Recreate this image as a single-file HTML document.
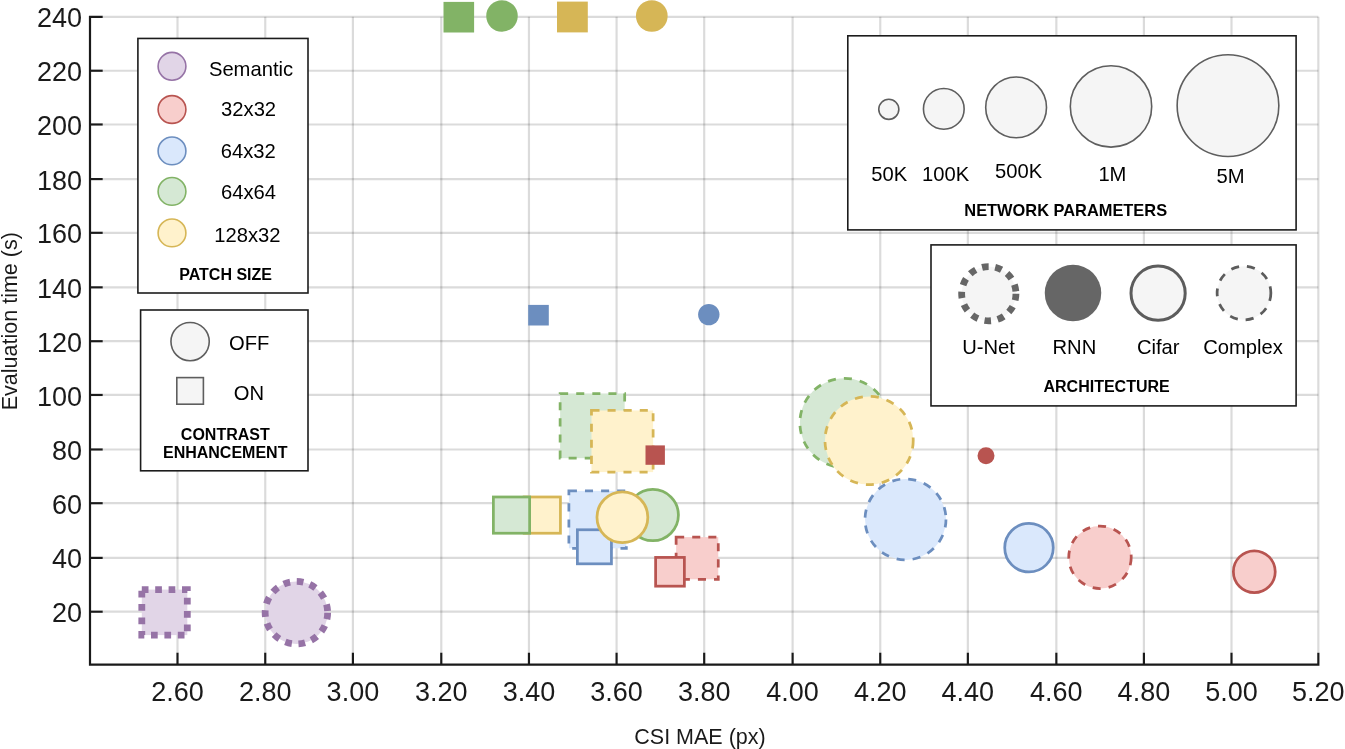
<!DOCTYPE html>
<html><head><meta charset="utf-8"><title>chart</title>
<style>html,body{margin:0;padding:0;background:#fff;overflow:hidden}svg{display:block;will-change:transform}</style>
</head><body>
<svg width="1345" height="749" viewBox="0 0 1345 749">
<rect x="0" y="0" width="1345" height="749" fill="#ffffff"/>
<line x1="102.50" y1="16.80" x2="1318.35" y2="16.80" stroke="rgba(0,0,0,0.14)" stroke-width="2.2"/>
<line x1="102.50" y1="70.73" x2="1318.35" y2="70.73" stroke="rgba(0,0,0,0.14)" stroke-width="2.2"/>
<line x1="102.50" y1="124.48" x2="1318.35" y2="124.48" stroke="rgba(0,0,0,0.14)" stroke-width="2.2"/>
<line x1="102.50" y1="179.08" x2="1318.35" y2="179.08" stroke="rgba(0,0,0,0.14)" stroke-width="2.2"/>
<line x1="102.50" y1="232.81" x2="1318.35" y2="232.81" stroke="rgba(0,0,0,0.14)" stroke-width="2.2"/>
<line x1="102.50" y1="287.35" x2="1318.35" y2="287.35" stroke="rgba(0,0,0,0.14)" stroke-width="2.2"/>
<line x1="102.50" y1="341.21" x2="1318.35" y2="341.21" stroke="rgba(0,0,0,0.14)" stroke-width="2.2"/>
<line x1="102.50" y1="394.95" x2="1318.35" y2="394.95" stroke="rgba(0,0,0,0.14)" stroke-width="2.2"/>
<line x1="102.50" y1="449.48" x2="1318.35" y2="449.48" stroke="rgba(0,0,0,0.14)" stroke-width="2.2"/>
<line x1="102.50" y1="503.21" x2="1318.35" y2="503.21" stroke="rgba(0,0,0,0.14)" stroke-width="2.2"/>
<line x1="102.50" y1="557.88" x2="1318.35" y2="557.88" stroke="rgba(0,0,0,0.14)" stroke-width="2.2"/>
<line x1="102.50" y1="611.70" x2="1318.35" y2="611.70" stroke="rgba(0,0,0,0.14)" stroke-width="2.2"/>
<line x1="177.50" y1="16.80" x2="177.50" y2="652.70" stroke="rgba(0,0,0,0.14)" stroke-width="2.2"/>
<line x1="265.25" y1="16.80" x2="265.25" y2="652.70" stroke="rgba(0,0,0,0.14)" stroke-width="2.2"/>
<line x1="352.90" y1="16.80" x2="352.90" y2="652.70" stroke="rgba(0,0,0,0.14)" stroke-width="2.2"/>
<line x1="441.28" y1="16.80" x2="441.28" y2="652.70" stroke="rgba(0,0,0,0.14)" stroke-width="2.2"/>
<line x1="528.95" y1="16.80" x2="528.95" y2="652.70" stroke="rgba(0,0,0,0.14)" stroke-width="2.2"/>
<line x1="616.58" y1="16.80" x2="616.58" y2="652.70" stroke="rgba(0,0,0,0.14)" stroke-width="2.2"/>
<line x1="704.20" y1="16.80" x2="704.20" y2="652.70" stroke="rgba(0,0,0,0.14)" stroke-width="2.2"/>
<line x1="792.61" y1="16.80" x2="792.61" y2="652.70" stroke="rgba(0,0,0,0.14)" stroke-width="2.2"/>
<line x1="880.25" y1="16.80" x2="880.25" y2="652.70" stroke="rgba(0,0,0,0.14)" stroke-width="2.2"/>
<line x1="967.85" y1="16.80" x2="967.85" y2="652.70" stroke="rgba(0,0,0,0.14)" stroke-width="2.2"/>
<line x1="1056.35" y1="16.80" x2="1056.35" y2="652.70" stroke="rgba(0,0,0,0.14)" stroke-width="2.2"/>
<line x1="1143.90" y1="16.80" x2="1143.90" y2="652.70" stroke="rgba(0,0,0,0.14)" stroke-width="2.2"/>
<line x1="1231.50" y1="16.80" x2="1231.50" y2="652.70" stroke="rgba(0,0,0,0.14)" stroke-width="2.2"/>
<line x1="1318.35" y1="16.80" x2="1318.35" y2="652.70" stroke="rgba(0,0,0,0.14)" stroke-width="2.2"/>
<path d="M102.70 16.80 H90.00 V664.70 H1318.35 V652.70" fill="none" stroke="#1a1a1a" stroke-width="2.2" stroke-linejoin="miter" stroke-linecap="butt"/>
<line x1="90.00" y1="70.73" x2="102.70" y2="70.73" stroke="#1a1a1a" stroke-width="2.2"/>
<line x1="90.00" y1="124.48" x2="102.70" y2="124.48" stroke="#1a1a1a" stroke-width="2.2"/>
<line x1="90.00" y1="179.08" x2="102.70" y2="179.08" stroke="#1a1a1a" stroke-width="2.2"/>
<line x1="90.00" y1="232.81" x2="102.70" y2="232.81" stroke="#1a1a1a" stroke-width="2.2"/>
<line x1="90.00" y1="287.35" x2="102.70" y2="287.35" stroke="#1a1a1a" stroke-width="2.2"/>
<line x1="90.00" y1="341.21" x2="102.70" y2="341.21" stroke="#1a1a1a" stroke-width="2.2"/>
<line x1="90.00" y1="394.95" x2="102.70" y2="394.95" stroke="#1a1a1a" stroke-width="2.2"/>
<line x1="90.00" y1="449.48" x2="102.70" y2="449.48" stroke="#1a1a1a" stroke-width="2.2"/>
<line x1="90.00" y1="503.21" x2="102.70" y2="503.21" stroke="#1a1a1a" stroke-width="2.2"/>
<line x1="90.00" y1="557.88" x2="102.70" y2="557.88" stroke="#1a1a1a" stroke-width="2.2"/>
<line x1="90.00" y1="611.70" x2="102.70" y2="611.70" stroke="#1a1a1a" stroke-width="2.2"/>
<line x1="177.50" y1="664.70" x2="177.50" y2="652.70" stroke="#1a1a1a" stroke-width="2.2"/>
<line x1="265.25" y1="664.70" x2="265.25" y2="652.70" stroke="#1a1a1a" stroke-width="2.2"/>
<line x1="352.90" y1="664.70" x2="352.90" y2="652.70" stroke="#1a1a1a" stroke-width="2.2"/>
<line x1="441.28" y1="664.70" x2="441.28" y2="652.70" stroke="#1a1a1a" stroke-width="2.2"/>
<line x1="528.95" y1="664.70" x2="528.95" y2="652.70" stroke="#1a1a1a" stroke-width="2.2"/>
<line x1="616.58" y1="664.70" x2="616.58" y2="652.70" stroke="#1a1a1a" stroke-width="2.2"/>
<line x1="704.20" y1="664.70" x2="704.20" y2="652.70" stroke="#1a1a1a" stroke-width="2.2"/>
<line x1="792.61" y1="664.70" x2="792.61" y2="652.70" stroke="#1a1a1a" stroke-width="2.2"/>
<line x1="880.25" y1="664.70" x2="880.25" y2="652.70" stroke="#1a1a1a" stroke-width="2.2"/>
<line x1="967.85" y1="664.70" x2="967.85" y2="652.70" stroke="#1a1a1a" stroke-width="2.2"/>
<line x1="1056.35" y1="664.70" x2="1056.35" y2="652.70" stroke="#1a1a1a" stroke-width="2.2"/>
<line x1="1143.90" y1="664.70" x2="1143.90" y2="652.70" stroke="#1a1a1a" stroke-width="2.2"/>
<line x1="1231.50" y1="664.70" x2="1231.50" y2="652.70" stroke="#1a1a1a" stroke-width="2.2"/>
<text x="82" y="27.40" font-family='"Liberation Sans", sans-serif' font-size="27" fill="#1a1a1a" text-anchor="end">240</text>
<text x="82" y="81.33" font-family='"Liberation Sans", sans-serif' font-size="27" fill="#1a1a1a" text-anchor="end">220</text>
<text x="82" y="135.08" font-family='"Liberation Sans", sans-serif' font-size="27" fill="#1a1a1a" text-anchor="end">200</text>
<text x="82" y="189.68" font-family='"Liberation Sans", sans-serif' font-size="27" fill="#1a1a1a" text-anchor="end">180</text>
<text x="82" y="243.41" font-family='"Liberation Sans", sans-serif' font-size="27" fill="#1a1a1a" text-anchor="end">160</text>
<text x="82" y="297.95" font-family='"Liberation Sans", sans-serif' font-size="27" fill="#1a1a1a" text-anchor="end">140</text>
<text x="82" y="351.81" font-family='"Liberation Sans", sans-serif' font-size="27" fill="#1a1a1a" text-anchor="end">120</text>
<text x="82" y="405.55" font-family='"Liberation Sans", sans-serif' font-size="27" fill="#1a1a1a" text-anchor="end">100</text>
<text x="82" y="460.08" font-family='"Liberation Sans", sans-serif' font-size="27" fill="#1a1a1a" text-anchor="end">80</text>
<text x="82" y="513.81" font-family='"Liberation Sans", sans-serif' font-size="27" fill="#1a1a1a" text-anchor="end">60</text>
<text x="82" y="568.48" font-family='"Liberation Sans", sans-serif' font-size="27" fill="#1a1a1a" text-anchor="end">40</text>
<text x="82" y="622.30" font-family='"Liberation Sans", sans-serif' font-size="27" fill="#1a1a1a" text-anchor="end">20</text>
<text x="177.50" y="700.8" font-family='"Liberation Sans", sans-serif' font-size="27" fill="#1a1a1a" text-anchor="middle">2.60</text>
<text x="265.25" y="700.8" font-family='"Liberation Sans", sans-serif' font-size="27" fill="#1a1a1a" text-anchor="middle">2.80</text>
<text x="352.90" y="700.8" font-family='"Liberation Sans", sans-serif' font-size="27" fill="#1a1a1a" text-anchor="middle">3.00</text>
<text x="441.28" y="700.8" font-family='"Liberation Sans", sans-serif' font-size="27" fill="#1a1a1a" text-anchor="middle">3.20</text>
<text x="528.95" y="700.8" font-family='"Liberation Sans", sans-serif' font-size="27" fill="#1a1a1a" text-anchor="middle">3.40</text>
<text x="616.58" y="700.8" font-family='"Liberation Sans", sans-serif' font-size="27" fill="#1a1a1a" text-anchor="middle">3.60</text>
<text x="704.20" y="700.8" font-family='"Liberation Sans", sans-serif' font-size="27" fill="#1a1a1a" text-anchor="middle">3.80</text>
<text x="792.61" y="700.8" font-family='"Liberation Sans", sans-serif' font-size="27" fill="#1a1a1a" text-anchor="middle">4.00</text>
<text x="880.25" y="700.8" font-family='"Liberation Sans", sans-serif' font-size="27" fill="#1a1a1a" text-anchor="middle">4.20</text>
<text x="967.85" y="700.8" font-family='"Liberation Sans", sans-serif' font-size="27" fill="#1a1a1a" text-anchor="middle">4.40</text>
<text x="1056.35" y="700.8" font-family='"Liberation Sans", sans-serif' font-size="27" fill="#1a1a1a" text-anchor="middle">4.60</text>
<text x="1143.90" y="700.8" font-family='"Liberation Sans", sans-serif' font-size="27" fill="#1a1a1a" text-anchor="middle">4.80</text>
<text x="1231.50" y="700.8" font-family='"Liberation Sans", sans-serif' font-size="27" fill="#1a1a1a" text-anchor="middle">5.00</text>
<text x="1318.35" y="700.8" font-family='"Liberation Sans", sans-serif' font-size="27" fill="#1a1a1a" text-anchor="middle">5.20</text>
<text x="700" y="744.1" font-family='"Liberation Sans", sans-serif' font-size="21.5" fill="#1a1a1a" text-anchor="middle">CSI MAE (px)</text>
<text transform="translate(16.7 321.2) rotate(-90)" x="0" y="0" font-family='"Liberation Sans", sans-serif' font-size="21.5" fill="#1a1a1a" text-anchor="middle">Evaluation time (s)</text>
<rect x="141.80" y="589.60" width="45.50" height="45.50" fill="#e1d5e7" stroke="#9673a6" stroke-width="6.8" stroke-dasharray="6.7 6.7"/>
<circle cx="296.4" cy="612.7" r="31.25" fill="#e1d5e7" stroke="#9673a6" stroke-width="6.8" stroke-dasharray="6.7 6.7"/>
<rect x="443.50" y="1.90" width="30.60" height="30.60" fill="#82b366"/>
<circle cx="502.0" cy="16.0" r="15.75" fill="#82b366"/>
<rect x="557.00" y="1.60" width="30.80" height="30.80" fill="#d6b656"/>
<circle cx="651.8" cy="16.0" r="15.85" fill="#d6b656"/>
<rect x="528.20" y="304.90" width="20.60" height="20.60" fill="#6c8ebf"/>
<circle cx="708.8" cy="314.6" r="10.70" fill="#6c8ebf"/>
<rect x="560.12" y="393.62" width="64.55" height="64.55" fill="#d5e8d4" stroke="#82b366" stroke-width="2.75" stroke-dasharray="8.05 8.05"/>
<rect x="591.47" y="410.48" width="61.65" height="61.65" fill="#fff2cc" stroke="#d6b656" stroke-width="2.75" stroke-dasharray="8.05 8.05"/>
<rect x="645.50" y="445.40" width="19.40" height="19.40" fill="#b85450"/>
<rect x="524.17" y="496.98" width="36.25" height="36.25" fill="#fff2cc" stroke="#d6b656" stroke-width="2.75"/>
<rect x="493.38" y="496.98" width="36.25" height="36.25" fill="#d5e8d4" stroke="#82b366" stroke-width="2.75"/>
<rect x="568.88" y="490.88" width="57.45" height="57.45" fill="#dae8fc" stroke="#6c8ebf" stroke-width="2.75" stroke-dasharray="8.05 8.05"/>
<rect x="577.38" y="529.77" width="34.05" height="34.05" fill="#dae8fc" stroke="#6c8ebf" stroke-width="2.75"/>
<circle cx="652.8" cy="515.1" r="25.62" fill="#d5e8d4" stroke="#82b366" stroke-width="2.75"/>
<circle cx="622.4" cy="517.3" r="25.43" fill="#fff2cc" stroke="#d6b656" stroke-width="2.75"/>
<rect x="676.12" y="537.12" width="42.15" height="42.15" fill="#f8cecc" stroke="#b85450" stroke-width="2.75" stroke-dasharray="8.05 8.05"/>
<rect x="655.62" y="557.42" width="28.75" height="28.75" fill="#f8cecc" stroke="#b85450" stroke-width="2.75"/>
<circle cx="844.5" cy="422.9" r="44.62" fill="#d5e8d4" stroke="#82b366" stroke-width="2.75" stroke-dasharray="8.05 8.05"/>
<circle cx="869.1" cy="440.5" r="44.12" fill="#fff2cc" stroke="#d6b656" stroke-width="2.75" stroke-dasharray="8.05 8.05"/>
<circle cx="905.5" cy="519.4" r="40.48" fill="#dae8fc" stroke="#6c8ebf" stroke-width="2.75" stroke-dasharray="8.05 8.05"/>
<circle cx="986.0" cy="455.8" r="8.50" fill="#b85450"/>
<circle cx="1029.0" cy="547.7" r="24.27" fill="#dae8fc" stroke="#6c8ebf" stroke-width="2.75"/>
<circle cx="1100.0" cy="557.3" r="31.23" fill="#f8cecc" stroke="#b85450" stroke-width="2.75" stroke-dasharray="8.05 8.05"/>
<circle cx="1254.3" cy="571.7" r="20.93" fill="#f8cecc" stroke="#b85450" stroke-width="2.75"/>
<rect x="137.90" y="38.45" width="170.10" height="254.55" fill="#ffffff" stroke="#1c1c1c" stroke-width="1.6"/>
<circle cx="172.0" cy="66.3" r="13.90" fill="#e1d5e7" stroke="#9673a6" stroke-width="1.6"/>
<text x="251.0" y="76.2" font-family='"Liberation Sans", sans-serif' font-size="20.2" fill="#000000" text-anchor="middle">Semantic</text>
<circle cx="172.0" cy="109.5" r="13.90" fill="#f8cecc" stroke="#b85450" stroke-width="1.6"/>
<text x="248.6" y="116.2" font-family='"Liberation Sans", sans-serif' font-size="20.2" fill="#000000" text-anchor="middle">32x32</text>
<circle cx="172.0" cy="150.9" r="13.90" fill="#dae8fc" stroke="#6c8ebf" stroke-width="1.6"/>
<text x="248.3" y="158.0" font-family='"Liberation Sans", sans-serif' font-size="20.2" fill="#000000" text-anchor="middle">64x32</text>
<circle cx="172.0" cy="191.4" r="13.90" fill="#d5e8d4" stroke="#82b366" stroke-width="1.6"/>
<text x="248.5" y="199.3" font-family='"Liberation Sans", sans-serif' font-size="20.2" fill="#000000" text-anchor="middle">64x64</text>
<circle cx="172.0" cy="232.9" r="13.90" fill="#fff2cc" stroke="#d6b656" stroke-width="1.6"/>
<text x="247.4" y="241.7" font-family='"Liberation Sans", sans-serif' font-size="20.2" fill="#000000" text-anchor="middle">128x32</text>
<text x="225.6" y="279.7" font-family='"Liberation Sans", sans-serif' font-size="16" fill="#000000" text-anchor="middle" font-weight="bold">PATCH SIZE</text>
<rect x="140.60" y="310.00" width="167.40" height="160.80" fill="#ffffff" stroke="#1c1c1c" stroke-width="1.6"/>
<circle cx="190.1" cy="341.6" r="19.15" fill="#f5f5f5" stroke="#5e5e5e" stroke-width="1.6"/>
<rect x="176.80" y="377.60" width="26.60" height="26.60" fill="#f5f5f5" stroke="#5e5e5e" stroke-width="1.6"/>
<text x="249.2" y="350.2" font-family='"Liberation Sans", sans-serif' font-size="20.2" fill="#000000" text-anchor="middle">OFF</text>
<text x="248.9" y="400.0" font-family='"Liberation Sans", sans-serif' font-size="20.2" fill="#000000" text-anchor="middle">ON</text>
<text x="225.3" y="440.2" font-family='"Liberation Sans", sans-serif' font-size="16" fill="#000000" text-anchor="middle" font-weight="bold">CONTRAST</text>
<text x="225.2" y="458.4" font-family='"Liberation Sans", sans-serif' font-size="16" fill="#000000" text-anchor="middle" font-weight="bold">ENHANCEMENT</text>
<rect x="847.80" y="35.80" width="448.30" height="194.10" fill="#ffffff" stroke="#1c1c1c" stroke-width="1.6"/>
<circle cx="888.8" cy="109.3" r="10.05" fill="#f5f5f5" stroke="#5e5e5e" stroke-width="1.6"/>
<circle cx="943.8" cy="108.9" r="20.35" fill="#f5f5f5" stroke="#5e5e5e" stroke-width="1.6"/>
<circle cx="1016.1" cy="107.4" r="30.40" fill="#f5f5f5" stroke="#5e5e5e" stroke-width="1.6"/>
<circle cx="1111.0" cy="106.4" r="40.70" fill="#f5f5f5" stroke="#5e5e5e" stroke-width="1.6"/>
<circle cx="1228.0" cy="105.6" r="50.85" fill="#f5f5f5" stroke="#5e5e5e" stroke-width="1.6"/>
<text x="889.2" y="180.5" font-family='"Liberation Sans", sans-serif' font-size="20.2" fill="#000000" text-anchor="middle">50K</text>
<text x="945.7" y="180.5" font-family='"Liberation Sans", sans-serif' font-size="20.2" fill="#000000" text-anchor="middle">100K</text>
<text x="1018.7" y="178.1" font-family='"Liberation Sans", sans-serif' font-size="20.2" fill="#000000" text-anchor="middle">500K</text>
<text x="1112.4" y="180.5" font-family='"Liberation Sans", sans-serif' font-size="20.2" fill="#000000" text-anchor="middle">1M</text>
<text x="1230.5" y="183.0" font-family='"Liberation Sans", sans-serif' font-size="20.2" fill="#000000" text-anchor="middle">5M</text>
<text x="1065.7" y="215.9" font-family='"Liberation Sans", sans-serif' font-size="16.4" fill="#000000" text-anchor="middle" font-weight="bold">NETWORK PARAMETERS</text>
<rect x="931.00" y="244.90" width="365.10" height="161.00" fill="#ffffff" stroke="#1c1c1c" stroke-width="1.6"/>
<circle cx="988.8" cy="293.7" r="27.15" fill="#f5f5f5" stroke="#666666" stroke-width="6.8" stroke-dasharray="6.7 6.7"/>
<circle cx="1073.0" cy="293.1" r="28.25" fill="#666666"/>
<circle cx="1158.1" cy="293.2" r="27.10" fill="#f5f5f5" stroke="#5c5c5c" stroke-width="3"/>
<circle cx="1244.0" cy="293.0" r="26.87" fill="#f5f5f5" stroke="#5c5c5c" stroke-width="2.75" stroke-dasharray="8.05 8.05"/>
<text x="988.6" y="353.9" font-family='"Liberation Sans", sans-serif' font-size="20.2" fill="#000000" text-anchor="middle">U-Net</text>
<text x="1074.4" y="353.9" font-family='"Liberation Sans", sans-serif' font-size="20.2" fill="#000000" text-anchor="middle">RNN</text>
<text x="1158.2" y="353.9" font-family='"Liberation Sans", sans-serif' font-size="20.2" fill="#000000" text-anchor="middle">Cifar</text>
<text x="1243.0" y="353.9" font-family='"Liberation Sans", sans-serif' font-size="20.2" fill="#000000" text-anchor="middle">Complex</text>
<text x="1106.6" y="392.1" font-family='"Liberation Sans", sans-serif' font-size="16" fill="#000000" text-anchor="middle" font-weight="bold">ARCHITECTURE</text>
</svg>
</body></html>
